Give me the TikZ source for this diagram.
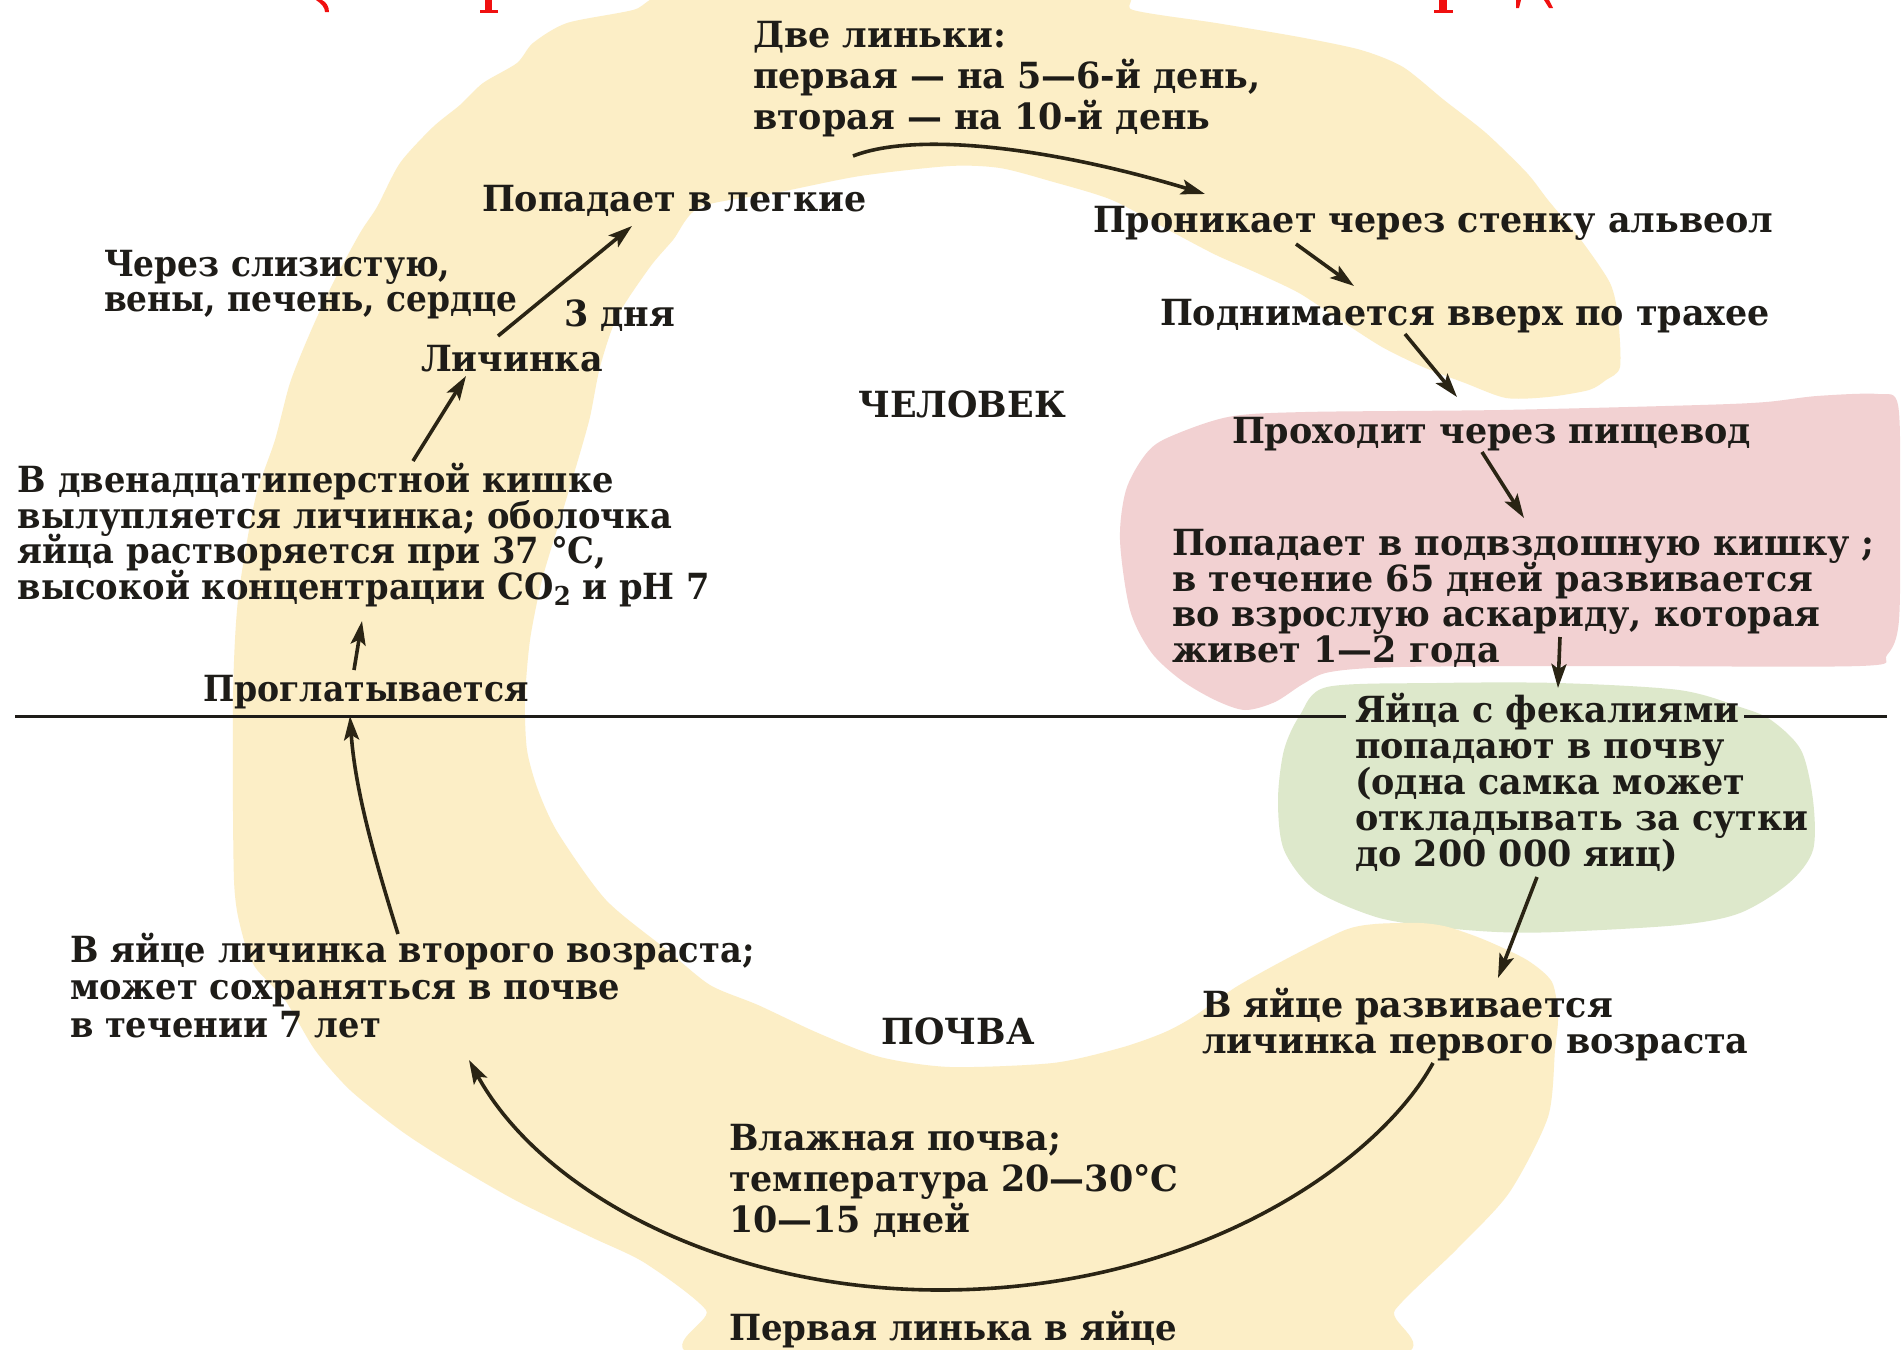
\documentclass[tikz,border=0pt]{standalone}
\usepackage{fontspec}
\setmainfont{DejaVu Serif}[FakeStretch=0.97]
\usetikzlibrary{arrows.meta}
\definecolor{ink}{HTML}{1E1C18}
\definecolor{arrowink}{HTML}{2A2414}
\definecolor{sandbg}{HTML}{FCEEC6}
\definecolor{rosebg}{HTML}{F2D1D2}
\definecolor{sagebg}{HTML}{DDE8CB}
\definecolor{titlered}{HTML}{F01010}
% fixed line pitch in multi-line labels
\newcommand\tightlines{\lineskiplimit-100pt\relax}
% multi-line labels are placed by the baseline of their last line
\tikzset{
  lbl/.style={anchor=base west, align=left, inner sep=0pt, outer sep=0pt, text=ink,
    font={\bfseries\fontsize{18}{17.5}\selectfont\tightlines}},
  lead/.style={font={\bfseries\fontsize{18}{#1}\selectfont\tightlines}},
  leadnarrow/.style 2 args={font={\bfseries\fontsize{18}{#1}\selectfont
    \addfontfeature{FakeStretch=#2}\tightlines}},
  flow/.style={draw=arrowink, line width=1.8pt,
    -{Stealth[length=12pt,width=7.5pt,inset=2.5pt]}},
  divider/.style={draw=ink, line width=1.5pt},
}
\begin{document}
\begin{tikzpicture}[x=0.5pt,y=-0.5pt]
\useasboundingbox (0,0) rectangle (1903,1350);
\fill[white] (0,0) rectangle (1903,1350);

% remnants of the cut-off red title along the top edge
\fill[titlered] (316,0) .. controls (322,4) and (325,8) .. (325,12) -- (329,12) .. controls (329,6) and (326,2) .. (322,0) -- cycle;
\fill[titlered] (485,0) rectangle (492,10);
\fill[titlered] (480,10) rectangle (498,13);
\fill[titlered] (1439,0) rectangle (1447,10);
\fill[titlered] (1434,10) rectangle (1453,13);
\fill[titlered] (1516,0) -- (1521,0) -- (1519,8) -- (1516,8) -- cycle;
\fill[titlered] (1544,0) -- (1549,0) -- (1553,8) -- (1549,8) -- cycle;

% coloured highlight areas
\fill[rosebg] plot[smooth cycle, tension=0.5] coordinates {
 (1145,455) (1167,438) (1228,417) (1305,412) (1500,410) (1700,405) (1766,402)
 (1817,396) (1878,394) (1898,405) (1900,500) (1899,620) (1887,655) (1860,666)
 (1600,666) (1400,667) (1330,672) (1303,684) (1275,702) (1245,710) (1215,700)
 (1181,680) (1151,652) (1130,610) (1120,540) (1126,490)};
\fill[sagebg] plot[smooth cycle, tension=0.5] coordinates {
 (1327,687) (1436,683) (1558,683) (1679,690) (1740,707) (1771,720) (1801,750)
 (1813,800) (1813,850) (1789,883) (1740,913) (1679,925) (1558,932) (1497,932)
 (1436,927) (1376,917) (1315,890) (1284,850) (1278,800) (1284,750) (1300,715)};
\fill[sandbg] plot[smooth cycle, tension=0.45] coordinates {
 (700,-10) (1100,-10) (1133,10) (1216,23) (1299,37) (1361,50) (1403,67)
 (1444,100) (1486,133) (1527,173) (1548,200) (1581,240) (1610,283) (1618,317)
 (1620,367) (1606,380) (1589,390) (1548,397) (1506,398) (1465,383) (1423,367)
 (1382,347) (1340,320) (1299,293) (1257,273) (1216,255) (1174,233) (1112,200)
 (1050,181) (1000,168) (950,166) (860,176) (780,192) (700,207) (673,240)
 (650,267) (617,317) (600,367) (590,417) (578,460) (560,520) (542,580) (530,640)
 (525,700) (527,750) (538,790) (558,833) (606,900) (667,950) (710,985) (758,1005)
 (818,1033) (880,1057) (950,1067) (1053,1063) (1120,1048) (1163,1033) (1193,1017)
 (1236,987) (1290,957) (1345,930) (1375,924) (1420,923) (1448,927) (1485,940)
 (1527,960) (1552,982) (1558,1017) (1555,1050) (1548,1117) (1509,1193) (1456,1250)
 (1395,1310) (1372,1360) (721,1360) (706,1310) (645,1263) (591,1237) (515,1200)
 (446,1160) (400,1130) (350,1090) (315,1050) (285,1000) (255,967) (242,933)
 (234,880) (233,700) (238,600) (255,500) (275,440) (290,383) (310,333) (333,283)
 (360,233) (377,207) (400,163) (433,127) (460,105) (483,83) (517,63) (533,43)
 (567,23) (633,10)};

% border between the host and the soil
\coordinate (hostL) at (15,716);
\coordinate (hostM) at (1346,716);
\coordinate (soilM) at (1744,716);
\coordinate (soilR) at (1887,716);
\draw[divider] (hostL) -- (hostM);
\draw[divider] (soilM) -- (soilR);

% stage texts
\node[lbl, lead=20.5] (molts) at (753,129) {Две линьки:\\первая — на 5—6-й день,\\вторая — на 10-й день};
\node[lbl] (lungs) at (482,211) {Попадает в легкие};
\node[lbl] (alveol) at (1093,232) {Проникает через стенку альвеол};
\node[lbl] (trachea) at (1160,325) {Поднимается вверх по трахее};
\node[lbl] (gullet) at (1232,443) {Проходит через пищевод};
\node[lbl, lead=17.75] (ileum) at (1172,662) {Попадает в подвздошную кишку ;\\в течение 65 дней развивается\\во взрослую аскариду, которая\\живет 1—2 года};
\node[lbl, lead=18] (faeces) at (1355,866) {Яйца с фекалиями\\попадают в почву\\(одна самка может\\откладывать за сутки\\до 200 000 яиц)};
\node[lbl, lead=18] (firstlarva) at (1202,1053) {В яйце развивается\\личинка первого возраста};
\node[lbl, anchor=base] (soil) at (958,1044) {ПОЧВА};
\node[lbl, lead=20.5] (wetsoil) at (729,1232) {Влажная почва;\\температура 20—30°С\\10—15 дней};
\node[lbl, leadnarrow={17.5}{0.945}] (firstmolt) at (729,1340) {Первая линька в яйце};
\node[lbl, leadnarrow={18.75}{0.935}] (secondlarva) at (70,1037) {В яйце личинка второго возраста;\\может сохраняться в почве\\в течении 7 лет};
\node[lbl, leadnarrow={17.5}{0.92}] (swallow) at (203,701) {Проглатывается};
\node[lbl, leadnarrow={17.75}{0.937}] (duoden) at (18,599) {В двенадцатиперстной кишке\\вылупляется личинка; оболочка\\яйца растворяется при 37 °С,\\высокой концентрации СО\raisebox{-0.35ex}{\fontsize{13}{13}\selectfont 2} и рН 7};
\node[lbl, anchor=base] (human) at (962,417) {ЧЕЛОВЕК};
\node[lbl] (larva) at (421,371) {Личинка};
\node[lbl] (days) at (564,326) {3 дня};
\node[lbl, leadnarrow={17.5}{0.912}] (veins) at (104,311) {Через слизистую,\\вены, печень, сердце};

% connector end points
\coordinate (aS) at (498,336);  \coordinate (aE) at (632,226);
\coordinate (bS) at (853,156);  \coordinate (bE) at (1205,194);
\coordinate (cS) at (1296,244); \coordinate (cE) at (1354,286);
\coordinate (dS) at (1405,334); \coordinate (dE) at (1457,397);
\coordinate (eS) at (1482,452); \coordinate (eE) at (1524,518);
\coordinate (fS) at (1560,637); \coordinate (fE) at (1558,688);
\coordinate (gS) at (1537,877); \coordinate (gE) at (1498,978);
\coordinate (hS) at (1433,1063); \coordinate (hM) at (940,1290); \coordinate (hE) at (469,1060);
\coordinate (iS) at (398,934);  \coordinate (iE) at (350,716);
\coordinate (jS) at (354,670);  \coordinate (jE) at (362,621);
\coordinate (kS) at (413,461);  \coordinate (kE) at (466,376);

% life-cycle arrows
\draw[flow] (aS) -- (aE);
\draw[flow] (bS) .. controls (920,130) and (1060,150) .. (bE);
\draw[flow] (cS) -- (cE);
\draw[flow] (dS) -- (dE);
\draw[flow] (eS) -- (eE);
\draw[flow] (fS) -- (fE);
\draw[flow] (gS) -- (gE);
\draw[flow] (hS) .. controls (1380,1160) and (1200,1290) .. (hM) .. controls (720,1290) and (540,1190) .. (hE);
\draw[flow] (iS) .. controls (375,860) and (355,790) .. (iE);
\draw[flow] (jS) -- (jE);
\draw[flow] (kS) -- (kE);
\end{tikzpicture}
\end{document}
